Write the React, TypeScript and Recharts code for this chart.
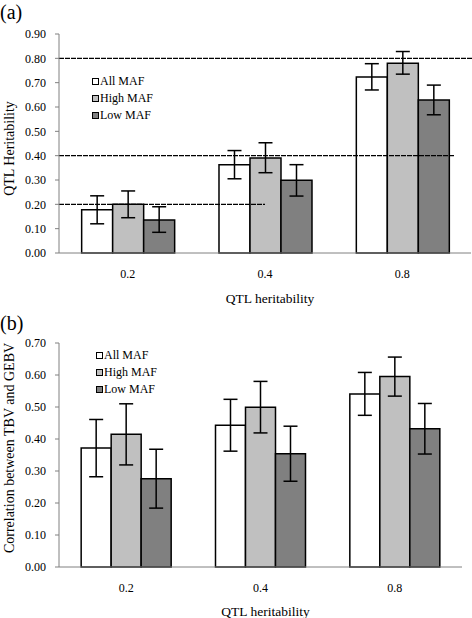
import React from "react"
import { Bar, BarChart, ErrorBar, Label, Legend, ReferenceLine, XAxis, YAxis } from "recharts"

// categories (QTL heritability)
const categories = ['0.2', '0.4', '0.8']
const seriesNames = ['All MAF', 'High MAF', 'Low MAF']
const seriesKeys = ['all', 'high', 'low']
const seriesColors = ['#ffffff', '#c0c0c0', '#808080']

// panel (a) estimated QTL heritability
const hAll = [0.178, 0.363, 0.723]
const hHigh = [0.200, 0.390, 0.780]
const hLow = [0.136, 0.299, 0.629]
const hAllLo = [0.120, 0.305, 0.670]
const hAllHi = [0.235, 0.421, 0.778]
const hHighLo = [0.145, 0.330, 0.735]
const hHighHi = [0.255, 0.453, 0.828]
const hLowLo = [0.085, 0.234, 0.568]
const hLowHi = [0.190, 0.363, 0.690]
const hTicks = [0, 0.1, 0.2, 0.3, 0.4, 0.5, 0.6, 0.7, 0.8, 0.9]
// true values, with how far along the category axis each line reaches
const trueLevels = [0.2, 0.4, 0.8]
const trueEnds = [1.0, 1.92, 3]

// panel (b) correlation between TBV and GEBV
const rAll = [0.372, 0.443, 0.541]
const rHigh = [0.415, 0.499, 0.595]
const rLow = [0.276, 0.354, 0.432]
const rAllLo = [0.282, 0.362, 0.474]
const rAllHi = [0.461, 0.524, 0.608]
const rHighLo = [0.319, 0.419, 0.534]
const rHighHi = [0.510, 0.580, 0.656]
const rLowLo = [0.184, 0.268, 0.353]
const rLowHi = [0.368, 0.440, 0.511]
const rTicks = [0, 0.1, 0.2, 0.3, 0.4, 0.5, 0.6, 0.7]

const font = '"Liberation Serif", "DejaVu Serif", serif'

function buildRows(vals: number[][], lows: number[][], highs: number[][]) {
    return categories.map((c, i) => {
        const row: any = { cat: c }
        seriesKeys.forEach((k, s) => {
            row[k] = vals[s][i]
            row[k + 'Err'] = [vals[s][i] - lows[s][i], highs[s][i] - vals[s][i]]
        })
        return row
    })
}

const dataA = buildRows([hAll, hHigh, hLow], [hAllLo, hHighLo, hLowLo], [hAllHi, hHighHi, hLowHi])
const dataB = buildRows([rAll, rHigh, rLow], [rAllLo, rHighLo, rLowLo], [rAllHi, rHighHi, rLowHi])

function LegendBox() {
    return (
        <div style={{ fontFamily: font, fontSize: 12, color: '#000', lineHeight: '17px', whiteSpace: 'nowrap' }}>
            {seriesNames.map((n, i) => (
                <div key={n} style={{ display: 'flex', alignItems: 'center' }}>
                    <span style={{ display: 'inline-block', width: 5, height: 5, border: '1px solid #000', background: seriesColors[i], marginRight: 1 }} />
                    {n}
                </div>
            ))}
        </div>
    )
}

function yTitle(text: string, dy: number) {
    return (props: any) => {
        const vb = props.viewBox
        const cx = 9
        const cy = vb.y + vb.height / 2 + dy
        return (
            <text x={cx} y={cy} transform={`rotate(-90, ${cx}, ${cy})`} textAnchor="middle" dominantBaseline="central"
                fontFamily={font} fontSize={14} fill="#000">{text}</text>
        )
    }
}

function Panel(props: {
    data: any[], ticks: number[], max: number, height: number, top: number, right: number,
    xHeight: number, yLabel: string, yLabelDy: number, legendTop: number, legendLeft: number,
    xLabelOffset: number, refs?: boolean,
}) {
    const tickStyle = { fontFamily: font, fontSize: 12, fill: '#000' }
    return (
        <BarChart width={472} height={props.height} data={props.data} barGap={0} barCategoryGap="16.5%"
            margin={{ top: props.top, right: props.right, left: 0, bottom: 0 }}>
            <XAxis xAxisId="pos" type="number" domain={[0, 3]} ticks={[0, 1, 2, 3]} height={0}
                tick={false} axisLine={false} tickLine={{ stroke: '#808080' }} tickSize={4} allowDataOverflow />
            <XAxis dataKey="cat" height={props.xHeight} tickLine={false} axisLine={{ stroke: '#808080' }}
                tick={tickStyle} tickMargin={10}>
                <Label value="QTL heritability" position="insideBottom" offset={props.xLabelOffset} dx={5}
                    style={{ fontFamily: font, fontSize: 13.5, fill: '#000' }} />
            </XAxis>
            <YAxis width={59} domain={[0, props.max]} ticks={props.ticks} interval={0}
                tickFormatter={t => t.toFixed(2)} tick={tickStyle} tickSize={4} tickMargin={9}
                axisLine={{ stroke: '#808080' }} tickLine={{ stroke: '#808080' }}
                label={yTitle(props.yLabel, props.yLabelDy)} />
            <Legend layout="vertical" align="center" verticalAlign="middle" content={() => <LegendBox />}
                wrapperStyle={{ left: props.legendLeft, top: props.legendTop, width: 110 }} />
            {props.refs && trueLevels.map((lvl, i) => (
                <ReferenceLine key={lvl} xAxisId="pos" segment={[{ x: 0, y: lvl }, { x: trueEnds[i], y: lvl }]}
                    stroke="#000" strokeWidth={1.3} strokeDasharray="5 1" ifOverflow="visible" />
            ))}
            {seriesKeys.map((k, i) => (
                <Bar key={k} dataKey={k} name={seriesNames[i]} fill={seriesColors[i]} stroke="#000" strokeWidth={1.5}
                    isAnimationActive={false}>
                    <ErrorBar dataKey={k + 'Err'} width={7} stroke="#000" strokeWidth={1.5} isAnimationActive={false} />
                </Bar>
            ))}
        </BarChart>
    )
}

export default function App() {
    return (
        <div style={{ position: 'absolute', left: 0, top: 0, width: 472, height: 618, background: '#fff', fontFamily: font }}>
            <div style={{ position: 'absolute', left: 0, top: 0 }}>
                <Panel data={dataA} ticks={hTicks} max={0.9} height={310} top={34} right={1} xHeight={57}
                    yLabel="QTL Heritability" yLabelDy={5} legendTop={73} legendLeft={92} xLabelOffset={7} refs />
            </div>
            <div style={{ position: 'absolute', left: 0, top: 310 }}>
                <Panel data={dataB} ticks={rTicks} max={0.7} height={308} top={33} right={10} xHeight={51}
                    yLabel="Correlation between TBV and GEBV" yLabelDy={-7} legendTop={37} legendLeft={96} xLabelOffset={2} />
            </div>
            <div style={{ position: 'absolute', left: 0, top: 1, fontSize: 20, lineHeight: '22px' }}>(a)</div>
            <div style={{ position: 'absolute', left: 0, top: 312, fontSize: 20, lineHeight: '22px' }}>(b)</div>
        </div>
    )
}
